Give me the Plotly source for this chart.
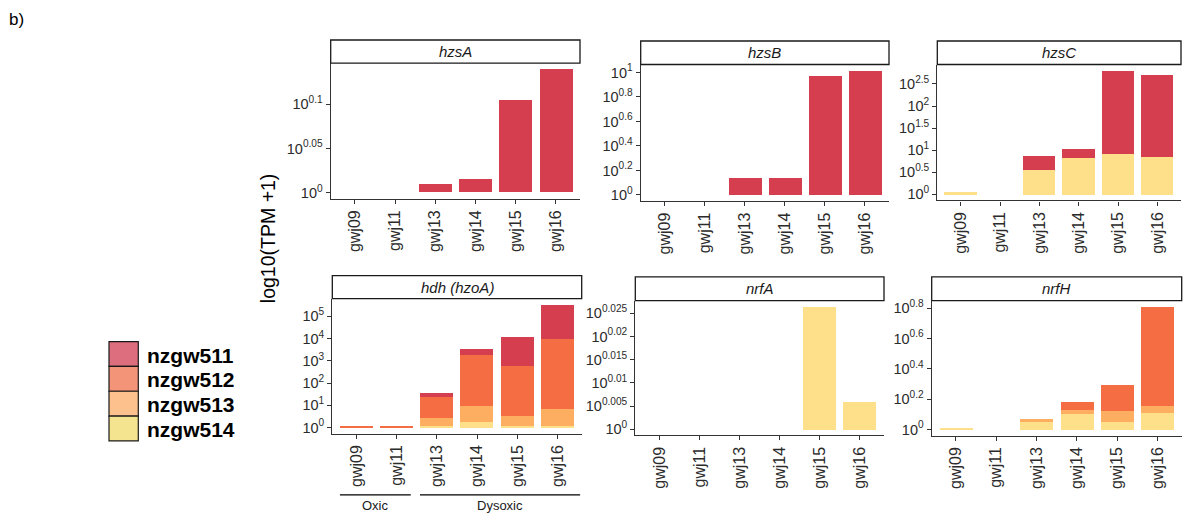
import plotly.graph_objects as go

W, H = 1184, 515

# Samples and organisms
samples = ["gwj09", "gwj11", "gwj13", "gwj14", "gwj15", "gwj16"]
organisms = ["nzgw514", "nzgw513", "nzgw512", "nzgw511"]  # bottom -> top of stack
bar_colors = {"nzgw511": "#D53E4F", "nzgw512": "#F46D43",
              "nzgw513": "#FDAE61", "nzgw514": "#FEE08B"}
legend_colors = {"nzgw511": "#DD6E7D", "nzgw512": "#F39479",
                 "nzgw513": "#FDC18D", "nzgw514": "#F4E48F"}

genes = ["hzsA", "hzsB", "hzsC", "hdh (hzoA)", "nrfA", "nrfH"]

# log10(TPM + 1) per gene and organism, one value per sample
hzsA = {"nzgw511": [0, 0, 0.0092, 0.0148, 0.105, 0.1395]}
hzsB = {"nzgw511": [0, 0, 0.146, 0.146, 0.976, 1.014]}
hzsC = {"nzgw514": [0.06, 0, 0.554, 0.824, 0.913, 0.846],
        "nzgw511": [0, 0, 0.314, 0.224, 1.887, 1.864]}
hdh = {"nzgw514": [0, 0, 0.075, 0.25, 0.075, 0.075],
       "nzgw513": [0, 0, 0.355, 0.72, 0.445, 0.755],
       "nzgw512": [0.07, 0.07, 0.97, 2.29, 2.25, 3.18],
       "nzgw511": [0, 0, 0.18, 0.27, 1.33, 1.51]}
nrfA = {"nzgw514": [0, 0, 0, 0, 0.0264, 0.00587]}
nrfH = {"nzgw514": [0.013, 0, 0.056, 0.102, 0.050, 0.108],
        "nzgw513": [0, 0, 0.013, 0.031, 0.071, 0.046],
        "nzgw512": [0, 0, 0, 0.053, 0.175, 0.655]}
gene_data = [hzsA, hzsB, hzsC, hdh, nrfA, nrfH]

# Exponent ticks (axis shows 10^x)
tick_exps = [
    [0, 0.05, 0.1],
    [0, 0.2, 0.4, 0.6, 0.8, 1],
    [0, 0.5, 1, 1.5, 2, 2.5],
    [0, 1, 2, 3, 4, 5],
    [0, 0.005, 0.01, 0.015, 0.02, 0.025],
    [0, 0.2, 0.4, 0.6, 0.8],
]

# Panel boxes in pixels: (left, right, strip_top, plot_top, plot_bottom)
panels = [
    (330.7, 580.0, 38.3, 61.7, 198.3),
    (640.7, 889.0, 39.3, 63.0, 200.7),
    (937.3, 1181.0, 39.3, 63.0, 200.0),
    (332.3, 581.7, 275.7, 299.0, 435.0),
    (635.3, 884.0, 277.0, 301.0, 436.7),
    (931.7, 1181.7, 277.0, 301.0, 437.0),
]

FONT = "Liberation Sans, Arial, sans-serif"
AX = "#333333"


def px_x(v):
    return v / W


def px_y(v):
    return 1 - v / H


def fmt(e):
    s = ("%g" % e)
    return "10<sup>%s</sup>" % s


fig = go.Figure()
layout = {}
shapes = []
annotations = []

for i, (gene, data, exps, box) in enumerate(zip(genes, gene_data, tick_exps, panels)):
    n = i + 1
    xa = "x" if n == 1 else "x%d" % n
    ya = "y" if n == 1 else "y%d" % n
    for org in organisms:
        if org not in data:
            continue
        fig.add_trace(go.Bar(
            x=samples, y=data[org], name=org, xaxis=xa, yaxis=ya,
            marker=dict(color=bar_colors[org], line=dict(width=0)),
            width=0.82, showlegend=False,
        ))
    totals = [sum(data[o][k] for o in data) for k in range(len(samples))]
    top = max(totals)
    left, right, stop, ptop, pbot = box
    layout["xaxis%d" % n] = dict(
        domain=[px_x(left), px_x(right)], anchor=ya, type="category",
        categoryorder="array", categoryarray=samples,
        range=[-0.6, len(samples) - 0.4],
        showline=True, linecolor=AX, linewidth=1.3, mirror=False,
        ticks="outside", ticklen=4, tickcolor=AX, tickwidth=1.1,
        tickangle=-90, showgrid=False, zeroline=False,
        tickfont=dict(family=FONT, size=16, color="#2b2b2b"),
    )
    layout["yaxis%d" % n] = dict(
        domain=[px_y(pbot), px_y(ptop)], anchor=xa,
        range=[-0.05 * top, 1.05 * top],
        showline=True, linecolor=AX, linewidth=1.3, mirror=False,
        ticks="outside", ticklen=4, tickcolor=AX, tickwidth=1.1,
        tickmode="array", tickvals=exps, ticktext=[fmt(e) for e in exps],
        showgrid=False, zeroline=False,
        tickfont=dict(family=FONT, size=14.5, color="#2b2b2b"),
    )
    # facet strip
    shapes.append(dict(type="rect", xref="paper", yref="paper",
                       x0=px_x(left), x1=px_x(right), y0=px_y(ptop), y1=px_y(stop),
                       line=dict(color="#1a1a1a", width=1.3), fillcolor="white"))
    annotations.append(dict(text="<i>%s</i>" % gene, xref="paper", yref="paper",
                            x=px_x((left + right) / 2), y=px_y((stop + ptop) / 2),
                            xanchor="center", yanchor="middle", showarrow=False,
                            font=dict(family=FONT, size=15, color="#1a1a1a")))

# Oxic / Dysoxic grouping under the hdh panel
groups = [("Oxic", -0.41, 1.35), ("Dysoxic", 1.58, 5.56)]
for label, g0, g1 in groups:
    shapes.append(dict(type="line", xref="x4", yref="paper", x0=g0, x1=g1,
                       y0=px_y(496.7), y1=px_y(496.7),
                       line=dict(color="black", width=1.3)))
    annotations.append(dict(text=label, xref="x4", yref="paper", x=(g0 + g1) / 2,
                            y=px_y(507.5), xanchor="center", yanchor="middle",
                            showarrow=False,
                            font=dict(family=FONT, size=13, color="#1a1a1a")))

# Shared y-axis title
annotations.append(dict(text="log10(TPM +1)", xref="paper", yref="paper",
                        x=px_x(268), y=px_y(238), textangle=-90,
                        xanchor="center", yanchor="middle", showarrow=False,
                        font=dict(family=FONT, size=19.5, color="black")))

# Panel tag
annotations.append(dict(text="b)", xref="paper", yref="paper",
                        x=px_x(7), y=px_y(18), xanchor="left", yanchor="middle",
                        showarrow=False,
                        font=dict(family=FONT, size=17, color="black")))

# Legend keys
legend_order = ["nzgw511", "nzgw512", "nzgw513", "nzgw514"]
key_top, key_h = 342.3, 25.0
for k, org in enumerate(legend_order):
    y0 = key_top + k * key_h
    shapes.append(dict(type="rect", xref="paper", yref="paper",
                       x0=px_x(109), x1=px_x(138.3), y0=px_y(y0 + key_h), y1=px_y(y0),
                       line=dict(color="#1a1a1a", width=1.2),
                       fillcolor=legend_colors[org]))
    annotations.append(dict(text="<b>%s</b>" % org, xref="paper", yref="paper",
                            x=px_x(145), y=px_y(y0 + key_h / 2 + 1),
                            xanchor="left", yanchor="middle", showarrow=False,
                            font=dict(family=FONT, size=21, color="black")))

fig.update_layout(
    width=W, height=H, margin=dict(l=0, r=0, t=0, b=0),
    paper_bgcolor="white", plot_bgcolor="white",
    barmode="stack", bargap=0, showlegend=False,
    shapes=shapes, annotations=annotations, **layout,
)

fig.write_html("out.html")
